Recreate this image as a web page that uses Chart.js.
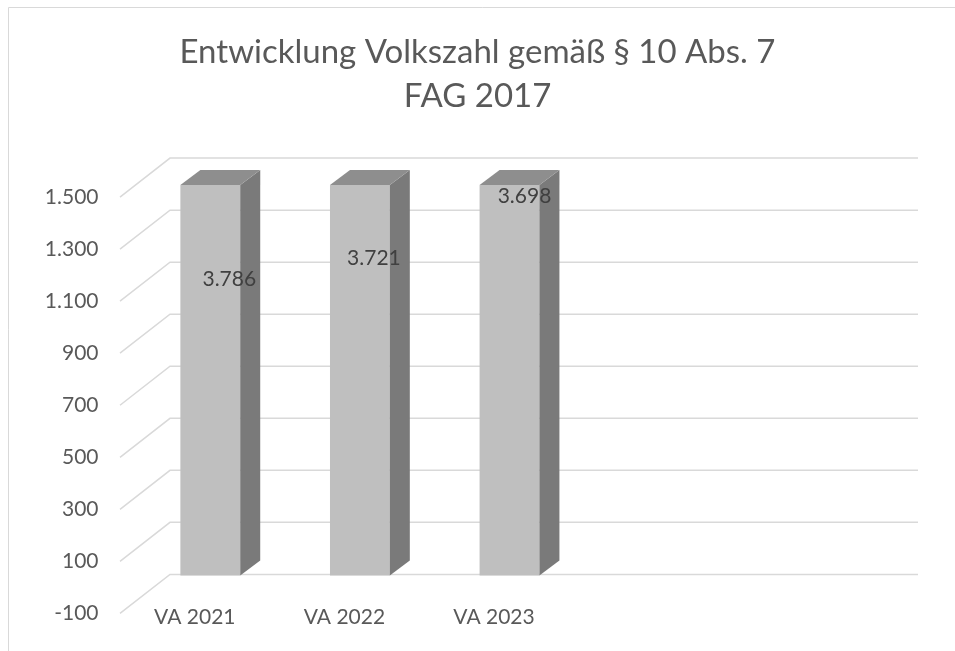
<!DOCTYPE html>
<html>
<head>
<meta charset="utf-8">
<title>Entwicklung Volkszahl</title>
<script src="https://cdn.jsdelivr.net/npm/chart.js@4.4.1/dist/chart.umd.min.js"></script>
<style>
html, body {
    margin: 0;
    padding: 0;
    background: #ffffff;
}
#wrap {
    width: 955px;
    height: 651px;
}
</style>
</head>
<body>
<div id="wrap">
<canvas id="volkChart" width="955" height="651"></canvas>
</div>

<script>

const categories = ["VA 2021", "VA 2022", "VA 2023", "", ""];

const volkszahl = [3786, 3721, 3698, null, null];

const tickValues = [-100, 100, 300, 500, 700, 900, 1100, 1300, 1500];

const titleLines = ["Entwicklung Volkszahl gemäß § 10 Abs. 7", "FAG 2017"];


function fmt(v) {
    return v.toLocaleString("de-DE");
}


// frame round the whole chart
const framePlugin = {
    id: "frame",
    beforeDraw(chart) {
        const ctx = chart.ctx;
        ctx.save();
        ctx.strokeStyle = "#d9d9d9";
        ctx.lineWidth = 1;
        ctx.beginPath();
        ctx.moveTo(8.5, 660);
        ctx.lineTo(8.5, 7.5);
        ctx.lineTo(960, 7.5);
        ctx.stroke();
        ctx.restore();
    }
};


// back wall grid with the slanted side wall, like the excel 3d chart
const wallPlugin = {
    id: "wall",
    beforeDatasetsDraw(chart, args, opts) {
        const ctx = chart.ctx;
        const area = chart.chartArea;
        const y = chart.scales.y;
        ctx.save();
        ctx.strokeStyle = "#d9d9d9";
        ctx.lineWidth = 1.5;
        tickValues.forEach(v => {
            const py = y.getPixelForValue(v) + opts.wallDy;
            const x0 = area.left + opts.wallDx;
            const x1 = area.right + opts.wallDx;
            ctx.beginPath();
            ctx.moveTo(x0 - opts.sideDx, py + opts.sideDy);
            ctx.lineTo(x0, py);
            ctx.lineTo(x1, py);
            ctx.stroke();
        });
        ctx.restore();
    }
};


// side and top faces of the bars plus the value labels
const bar3dPlugin = {
    id: "bar3d",
    afterDatasetsDraw(chart, args, opts) {
        const ctx = chart.ctx;
        const area = chart.chartArea;
        const meta = chart.getDatasetMeta(0);
        const d = opts.depthX;
        const h = opts.depthY;

        ctx.save();
        meta.data.forEach((bar, i) => {
            if (volkszahl[i] == null) return;
            const p = bar.getProps(["x", "y", "base", "width"], true);
            const left = p.x - p.width / 2;
            const right = p.x + p.width / 2;
            const top = Math.max(p.y, area.top);
            const bottom = p.base;

            ctx.fillStyle = opts.sideColor;
            ctx.beginPath();
            ctx.moveTo(right, top);
            ctx.lineTo(right + d, top - h);
            ctx.lineTo(right + d, bottom - h);
            ctx.lineTo(right, bottom);
            ctx.closePath();
            ctx.fill();

            ctx.fillStyle = opts.topColor;
            ctx.beginPath();
            ctx.moveTo(left, top);
            ctx.lineTo(left + d, top - h);
            ctx.lineTo(right + d, top - h);
            ctx.lineTo(right, top);
            ctx.closePath();
            ctx.fill();

            const s = opts.labelShift[i];
            ctx.fillStyle = "#404040";
            ctx.font = "21px Lato";
            ctx.textAlign = "center";
            ctx.textBaseline = "middle";
            ctx.fillText(fmt(volkszahl[i]), p.x + s[0], top + s[1]);
        });
        ctx.restore();
    }
};


new Chart(
document.getElementById("volkChart"),
{
type: "bar",

data: {
labels: categories,
datasets: [{
data: volkszahl,
backgroundColor: "#bfbfbf",
borderWidth: 0,
barPercentage: 0.4,
categoryPercentage: 1
}]
},

options: {
responsive: false,
animation: false,
devicePixelRatio: 1,
layout: {
padding: 0
},
plugins: {
legend: { display: false },
tooltip: { enabled: false },
title: {
display: true,
text: titleLines,
color: "#595959",
font: { family: "Lato", size: 33, weight: "normal", lineHeight: 1.35 },
padding: { top: 30, bottom: 66 }
},
wall: {
wallDx: 34.5,
wallDy: -27,
sideDx: 50,
sideDy: 39
},
bar3d: {
depthX: 20,
depthY: 15,
sideColor: "#7a7a7a",
topColor: "#8e8e8e",
labelShift: [[19, 94], [14, 73], [15, 11]]
}
},
scales: {
y: {
min: -100,
max: 1500,
afterBuildTicks(scale) {
scale.ticks = tickValues.map(v => ({ value: v }));
},
afterFit(scale) {
scale.width = 135.5;
},
grid: { display: false, drawTicks: false },
border: { display: false },
ticks: {
padding: 37,
labelOffset: 12,
color: "#595959",
font: { family: "Lato", size: 21 },
callback: v => fmt(v)
}
},
// empty axis on the right, only there to keep room for the 3d wall
yRight: {
position: "right",
min: -100,
max: 1500,
afterFit(scale) {
scale.width = 71.5;
},
grid: { display: false, drawTicks: false },
border: { display: false },
ticks: { display: false }
},
x: {
afterFit(scale) {
scale.height = 44;
},
grid: { display: false, drawTicks: false },
border: { display: false },
ticks: {
padding: 3,
labelOffset: -15.5,
maxRotation: 0,
autoSkip: false,
color: "#595959",
font: { family: "Lato", size: 21 }
}
}
}
},

plugins: [framePlugin, wallPlugin, bar3dPlugin]

});

</script>
</body>
</html>
